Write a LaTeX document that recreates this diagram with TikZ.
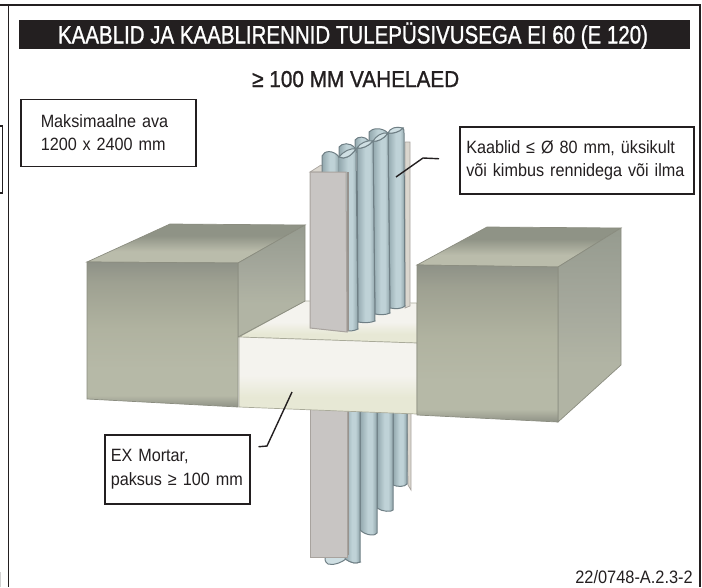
\documentclass[tikz,border=0pt]{standalone}
\usepackage{fontspec}
\usepackage{graphicx}
\setmainfont[FakeStretch=0.91]{Liberation Sans}
\newfontfamily\boldishf[FakeBold=1.2]{Liberation Sans}
\definecolor{ink}{HTML}{231F20}
\definecolor{blockedge}{HTML}{8B8D80}
\definecolor{mortaredge}{HTML}{A9AA99}
\definecolor{trayfill}{HTML}{C8C5C3}
\definecolor{trayedge}{HTML}{A8A39E}
\definecolor{flangefill}{HTML}{DAD6CE}
\definecolor{cableedge}{HTML}{6F7F85}
\definecolor{lensfill}{HTML}{CFDFE3}
\pgfdeclareverticalshading{blockfront}{100bp}{rgb(0bp)=(0.56,0.57,0.525);rgb(25bp)=(0.56,0.57,0.525);rgb(29bp)=(0.714,0.725,0.655);rgb(38bp)=(0.714,0.725,0.655);rgb(52bp)=(0.69,0.70,0.627);rgb(68bp)=(0.62,0.63,0.57);rgb(75bp)=(0.557,0.57,0.53);rgb(100bp)=(0.557,0.57,0.53)}
\pgfdeclareverticalshading{blockside}{100bp}{rgb(0bp)=(0.694,0.706,0.643);rgb(40bp)=(0.694,0.706,0.643);rgb(55bp)=(0.647,0.659,0.612);rgb(75bp)=(0.588,0.608,0.561);rgb(100bp)=(0.588,0.608,0.561)}
\pgfdeclareverticalshading{blocktop}{100bp}{rgb(0bp)=(0.73,0.737,0.67);rgb(40bp)=(0.73,0.737,0.67);rgb(60bp)=(0.561,0.576,0.525);rgb(100bp)=(0.561,0.576,0.525)}
\pgfdeclareverticalshading{mortarface}{100bp}{rgb(0bp)=(0.906,0.91,0.835);rgb(36bp)=(0.906,0.91,0.835);rgb(50bp)=(0.957,0.953,0.933);rgb(100bp)=(0.957,0.953,0.933)}
\pgfdeclarehorizontalshading{cableshade}{100bp}{rgb(0bp)=(0.576,0.659,0.682);rgb(25bp)=(0.576,0.659,0.682);rgb(48bp)=(0.75,0.824,0.843);rgb(60bp)=(0.75,0.824,0.843);rgb(75bp)=(0.56,0.64,0.663);rgb(100bp)=(0.56,0.64,0.663)}
\tikzset{
  blockF/.style={shading=blockfront,draw=blockedge,line width=.7},
  blockS/.style={shading=blockside,draw=blockedge,line width=.7},
  blockT/.style={shading=blocktop,draw=blockedge,line width=.7},
  mortar/.style={shading=mortarface,draw=mortaredge,line width=.7},
  col/.style={shading=cableshade,draw=cableedge,line width=1},
  lens/.style={fill=lensfill,draw=cableedge,line width=1},
  tray/.style={fill=trayfill,draw=trayedge,line width=1},
  flange/.style={fill=flangefill,draw=trayedge,line width=.7},
  frameline/.style={draw=ink,line width=2},
  callout/.style={draw=ink,line width=1.5,fill=white,anchor=north west,align=left,inner ysep=0pt,inner xsep=#1,
    font=\fontsize{17.8}{23.7}\selectfont,text=ink},
  callout/.default=6pt,
  leader/.style={draw=ink,line width=1.4},
}
\begin{document}
\begin{tikzpicture}[x=1pt,y=-1pt]
\useasboundingbox (0,0) rectangle (702,587);
% frame
\draw[frameline] (0,5) -- (699.5,5) -- (699.5,587);
\draw[draw=ink,line width=1.5] (8.5,5) -- (8.5,587);
\draw[draw=ink,line width=1.2] (0,126) -- (2.5,126) -- (2.5,193) -- (0,193);
\fill[gray!35] (0,572) rectangle (1,587);
% titles
\node[fill=ink,minimum width=671pt,minimum height=29pt,inner sep=0pt,anchor=north west] (bar) at (19,20) {};
\node[text=white,inner sep=0pt,anchor=center] (title) at (353,35.5)
  {\resizebox{590pt}{\height}{\fontsize{25}{28}\boldishf KAABLID JA KAABLIRENNID TULEPÜSIVUSEGA EI 60 (E 120)}};
\node[text=ink,inner sep=0pt,anchor=base west] (sub) at (252,87)
  {\resizebox{207pt}{\height}{\fontsize{23}{26}\boldishf ≥ 100 MM VAHELAED}};
% lower cables and tray
\fill[lensfill,draw=cableedge,line width=1] (360,562) .. controls (356,564) and (351,563) .. (346,559) .. controls (342,562) and (334,566) .. (328,564) .. controls (325,562) and (324,558) .. (326,557) -- (347,557) -- cycle;
\draw[flange] (407,400) -- (411,400) -- (411,490) -- (408,485) -- cycle;
\shadedraw[col] (393,400) -- (407,400) -- (407,484) .. controls (405,487) and (397,487) .. (393,485) -- cycle;
\shadedraw[col] (377,400) -- (393,400) -- (393,510) .. controls (392,512) and (382,512) .. (377,508) -- cycle;
\shadedraw[col] (360,400) -- (377,400) -- (377,533) .. controls (376,536) and (366,536) .. (360,530) -- cycle;
\shadedraw[col] (345,400) -- (360,400) -- (360,562) .. controls (356,564) and (351,563) .. (345,559) -- cycle;
\draw[trayedge!90!black,line width=2] (348,400) -- (348,555);
\draw[tray] (310,400) -- (347,400) -- (347,557) -- (310,557) -- cycle;
% mortar
\shadedraw[mortar] (239,337) -- (305,301) -- (417,303) -- (417,343) -- cycle;
\shadedraw[mortar] (239,337) -- (417,343) -- (417,414) -- (239,407) -- cycle;
% left block
\shadedraw[blockT] (87,262) -- (170,224) -- (305,225) -- (238,263) -- cycle;
\shadedraw[blockS] (238,263) -- (305,225) -- (305,301) -- (238,337) -- cycle;
\shadedraw[blockF] (87,262) -- (238,263) -- (238,407) -- (87,399) -- cycle;
% right block
\shadedraw[blockT] (417,265) -- (487,227) -- (621,228) -- (558,267) -- cycle;
\shadedraw[blockS] (558,267) -- (621,228) -- (621,365) -- (558,422) -- cycle;
\shadedraw[blockF] (417,265) -- (558,267) -- (558,422) -- (417,415) -- cycle;
% upper flange and tray top
\draw[flange] (405,142) -- (410,142) -- (410,306) -- (405,308) -- cycle;
\fill[flangefill,draw=trayedge,line width=.7] (310,172) -- (321,165) -- (330,172) -- cycle;
% back humps
\shadedraw[col] (339,162) -- (339,147) .. controls (342,143) and (350,142) .. (355,148) -- (355,160) -- cycle;
\shadedraw[col] (355,152) -- (355,140) .. controls (358,136) and (365,136) .. (369,141) -- (369,152) -- cycle;
\shadedraw[col] (369,145) -- (369,132) .. controls (372,128) and (382,127) .. (388,133) -- (388,145) -- cycle;
% column 4
\shadedraw[col] (388,133) .. controls (392,134) and (400,132) .. (403,128) .. controls (404,129) and (404,131) .. (404,133) -- (405,306) .. controls (402,309) and (395,309) .. (390,308) -- cycle;
\draw[lens] (388,133) .. controls (390,128) and (396,126) .. (403,128) .. controls (400,132) and (392,134) .. (388,133) -- cycle;
% column 3
\shadedraw[col] (373,141) .. controls (377,142) and (384,139) .. (388,133) -- (390,313) .. controls (386,315) and (380,315) .. (375,314) -- cycle;
\draw[lens] (373,141) .. controls (376,136) and (382,132) .. (388,133) .. controls (384,139) and (377,142) .. (373,141) -- cycle;
% column 2
\shadedraw[col] (357,148) .. controls (362,149) and (369,146) .. (373,141) -- (375,321) .. controls (370,323) and (364,323) .. (358,322) -- cycle;
\draw[lens] (357,148) .. controls (360,143) and (367,140) .. (373,141) .. controls (369,146) and (362,149) .. (357,148) -- cycle;
% column 1
\shadedraw[col] (322,176) -- (322,156) .. controls (324,150) and (334,150) .. (339,157) -- (339,176) -- cycle;
\shade[shading=cableshade] (339,157) .. controls (345,160) and (351,156) .. (356,149) -- (358,329) .. controls (354,331) and (349,331) .. (339,331) -- cycle;
\draw[cableedge,line width=1] (339,157) .. controls (345,160) and (351,156) .. (356,149) -- (358,329) .. controls (354,331) and (350,331) .. (347,331);
\draw[lens] (339,157) .. controls (344,151) and (350,148) .. (356,149) .. controls (351,156) and (345,160) .. (339,157) -- cycle;
% upper tray
\draw[trayedge!90!black,line width=2] (347.5,172) -- (347.5,331);
\draw[tray] (310,172) -- (346,172) -- (347,332) -- (310,328) -- cycle;
% callouts
\node[callout=20pt,text width=135pt,minimum height=67pt] (ava) at (20,98.5) {Maksimaalne ava\\1200 x 2400 mm};
\node[callout=6.5pt,text width=221pt,minimum height=67pt] (kaablid) at (459,126) {Kaablid ≤ Ø 80 mm, üksikult\\või kimbus rennidega või ilma};
\node[callout=6pt,text width=133pt,minimum height=69pt] (exm) at (104,434) {EX Mortar,\\paksus ≥ 100 mm};
\coordinate (kelbow) at (423,158);
\coordinate (ktip) at (396,177);
\coordinate (melbow) at (267,446);
\coordinate (mtip) at (292,392);
\draw[leader] ([xshift=-20pt,yshift=1.5pt]kaablid.west) -- (kelbow) -- (ktip);
\draw[leader] ([xshift=8pt,yshift=22.5pt]exm.east) -- (melbow) -- (mtip);
\node[anchor=base east,inner sep=0pt,text=ink,font=\fontsize{18}{20}\selectfont] (code) at (693,583) {22/0748-A.2.3-2};
\end{tikzpicture}
\end{document}
